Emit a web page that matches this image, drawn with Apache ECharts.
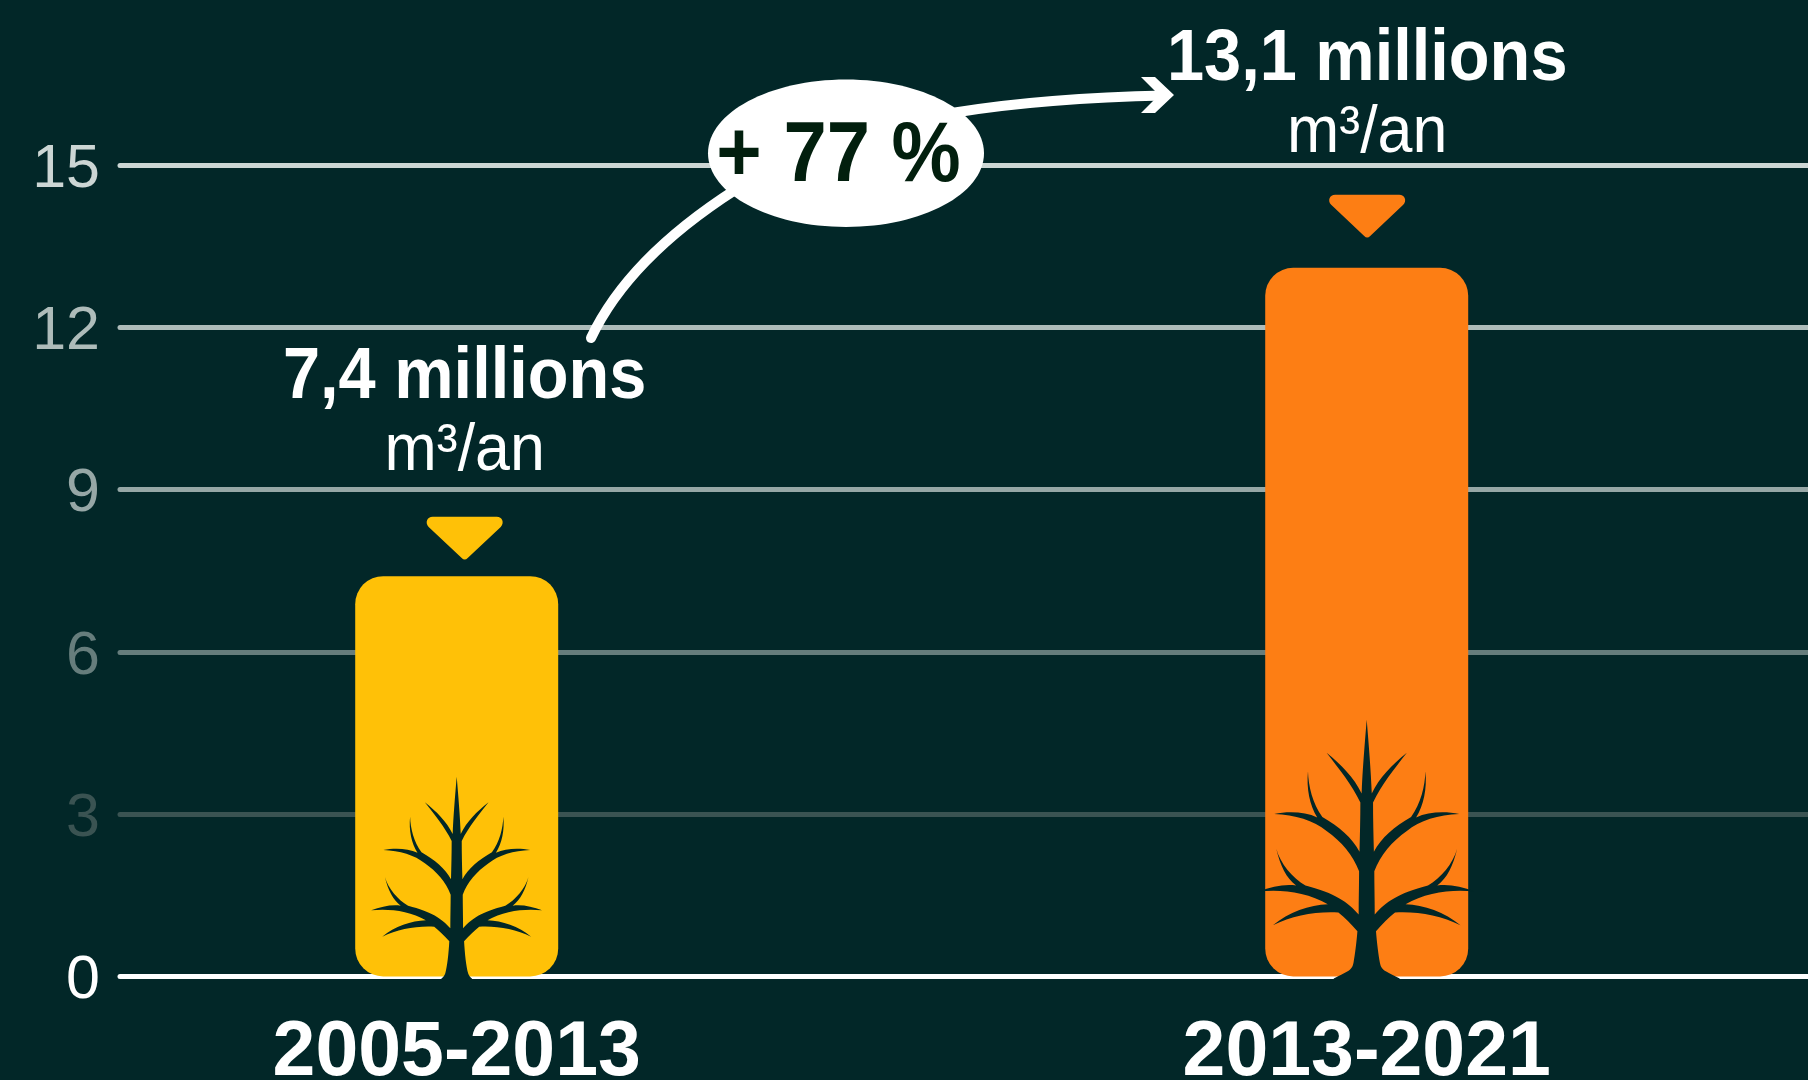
<!DOCTYPE html>
<html lang="fr">
<head>
<meta charset="utf-8">
<title>Volume annuel : 2005-2013 et 2013-2021</title>
<style>
  html, body { margin: 0; padding: 0; background: #022728; }
  #chart { width: 1808px; height: 1080px; }
</style>
<script src="https://cdn.jsdelivr.net/npm/echarts@6/dist/echarts.min.js"></script>
</head>
<body>
<div id="chart"></div>
<script>
// Chart data
const periods = ['2005-2013', '2013-2021'];
const volumes = [7.4, 13.1];
const volumeLabels = ['7,4 millions', '13,1 millions'];
const unitLabel = 'm³/an';
const changeLabel = '+ 77 %';
const axisTicks = [0, 3, 6, 9, 12, 15];

// Palette
const BG = '#022728';
const WHITE = '#ffffff';
const INK = '#021f0e';
const BAR_COLORS = ['#ffc107', '#fd7e14'];
const TICK_COLORS = ['#ffffff', '#3a5352', '#667d7c', '#96a7a6', '#aebcba', '#ccd6d4'];
const FONT = '"Liberation Sans", Arial, sans-serif';

// Per-bar tweaks for the annotations above each bar
const LABEL_SHIFT_X = [8, 0.5];
const TEXT_LIFT = [0, 10];
const MARKER_LIFT = [0, 13.7];

// Tree silhouette: left half of the outline as cubic segments, mirrored around x = 350.
const TREE_START = [350, 110];
const TREE_LEFT = [
  [345, 170, 340, 230, 338, 282],
  [320, 245, 290, 215, 255, 187],
  [285, 225, 315, 262, 335, 303],
  [335, 340, 334, 380, 333, 418],
  [315, 385, 285, 360, 245, 337],
  [222, 305, 212, 265, 211, 230],
  [207, 270, 215, 310, 233, 338],
  [205, 325, 165, 323, 131, 330],
  [180, 332, 225, 345, 255, 370],
  [290, 394, 318, 427, 332, 464],
  [332, 495, 331, 530, 331, 565],
  [305, 535, 275, 515, 205, 497],
  [175, 480, 145, 445, 136, 411],
  [145, 450, 160, 480, 183, 497],
  [155, 493, 125, 500, 95, 511],
  [145, 505, 210, 512, 258, 541],
  [215, 542, 165, 560, 128, 590],
  [175, 567, 230, 557, 283, 560],
  [298, 572, 313, 587, 328, 604]
];
const TREE_BASE = [
  // slim foot
  [[326, 640, 322, 680, 316, 700], [314, 706, 310, 712, 304, 716], [304, 718, 304, 719, 304, 720]],
  // foot with a wide flare on the ground
  [[326, 630, 322, 660, 319, 676], [317, 686, 314, 692, 305, 697], [295, 702, 285, 708, 272, 714], [272, 716, 272, 718, 272, 720]]
];

function treePath(baseIndex) {
  const left = TREE_LEFT.concat(TREE_BASE[baseIndex]);
  const mirror = x => 700 - x;
  let d = 'M' + TREE_START.join(' ');
  left.forEach(s => { d += 'C' + s.join(' '); });
  const pts = [TREE_START].concat(left.map(s => [s[4], s[5]]));
  const last = pts[pts.length - 1];
  d += 'L' + mirror(last[0]) + ' ' + last[1];
  for (let i = left.length - 1; i >= 0; i--) {
    const s = left[i];
    const p = pts[i];
    d += 'C' + [mirror(s[2]), s[3], mirror(s[0]), s[1], mirror(p[0]), p[1]].join(' ');
  }
  return d + 'Z';
}

// Drawn size of the silhouette per bar
const TREE_SCALE_X = [1, 1.26];
const TREE_SCALE_Y = [1, 1.285];

const MARKER_PATH = 'M6 0H70C75.5 0 78 6 74 10L41 41C39 43 37 43 35 41L2 10C-2 6 .5 0 6 0Z';

function renderTree(params, api) {
  const i = params.dataIndex;
  const base = api.coord([i, 0]);
  const sx = TREE_SCALE_X[i];
  const sy = TREE_SCALE_Y[i];
  return {
    type: 'path',
    shape: {
      pathData: treePath(i),
      layout: 'cover',
      x: base[0] - 85.5 * sx,
      y: base[1] - 199.8 * sy,
      width: 171 * sx,
      height: 203.3 * sy
    },
    style: { fill: BG }
  };
}

function scaledText(x, y, text, font, scaleX) {
  return {
    type: 'text',
    x: x,
    y: y,
    scaleX: scaleX,
    style: { x: 0, y: 0, text: text, font: font, fill: WHITE, align: 'center', verticalAlign: 'middle' }
  };
}

function renderAnnotation(params, api) {
  const i = params.dataIndex;
  const top = api.coord([i, api.value(1)]);
  const cx = top[0] + LABEL_SHIFT_X[i];
  const markerBottom = top[1] - 16.7 - MARKER_LIFT[i];
  return {
    type: 'group',
    children: [
      {
        type: 'path',
        shape: { pathData: MARKER_PATH, layout: 'cover', x: cx - 38, y: markerBottom - 42.6, width: 76, height: 42.6 },
        style: { fill: BAR_COLORS[i] }
      },
      scaledText(cx, top[1] - 198 - TEXT_LIFT[i], volumeLabels[i], 'bold 72px ' + FONT, 0.927),
      scaledText(cx, top[1] - 124 - TEXT_LIFT[i], unitLabel, '66px ' + FONT, 0.95)
    ]
  };
}

const GRID_TOP = 165;
const GRID_HEIGHT = 811.5;

const option = {
  backgroundColor: BG,
  animation: false,
  grid: [
    { left: 120, right: 0, top: GRID_TOP, height: GRID_HEIGHT, outerBoundsMode: 'none' },
    { left: 1.7, width: 1820, top: GRID_TOP, height: GRID_HEIGHT, outerBoundsMode: 'none' }
  ],
  xAxis: [
    { gridIndex: 0, type: 'category', data: periods, show: false },
    {
      gridIndex: 1,
      type: 'category',
      data: periods,
      axisLine: { show: false },
      axisTick: { show: false },
      axisLabel: { color: WHITE, fontFamily: FONT, fontWeight: 'bold', fontSize: 77, margin: 39 }
    }
  ],
  yAxis: [
    {
      gridIndex: 0,
      type: 'value',
      min: axisTicks[0],
      max: axisTicks[axisTicks.length - 1],
      interval: axisTicks[1] - axisTicks[0],
      axisLine: { show: false },
      axisTick: { show: false },
      axisLabel: {
        fontFamily: FONT,
        fontSize: 61,
        margin: 20,
        verticalAlign: 'top',
        lineHeight: 10,
        color: (value, index) => TICK_COLORS[index]
      },
      splitLine: { show: true, lineStyle: { color: TICK_COLORS, width: 5, cap: 'round' } }
    },
    {
      gridIndex: 1,
      type: 'value',
      min: axisTicks[0],
      max: axisTicks[axisTicks.length - 1],
      interval: axisTicks[1] - axisTicks[0],
      show: false
    }
  ],
  series: [
    {
      type: 'bar',
      xAxisIndex: 1,
      yAxisIndex: 1,
      barWidth: 203,
      z: 2,
      data: volumes.map((v, i) => ({
        value: v,
        itemStyle: { color: BAR_COLORS[i], borderRadius: 28 }
      }))
    },
    {
      type: 'custom',
      xAxisIndex: 1,
      yAxisIndex: 1,
      z: 3,
      clip: false,
      silent: true,
      renderItem: renderTree,
      data: periods.map((p, i) => [i, 0])
    },
    {
      type: 'custom',
      xAxisIndex: 1,
      yAxisIndex: 1,
      z: 4,
      clip: false,
      silent: true,
      renderItem: renderAnnotation,
      data: volumes.map((v, i) => [i, v])
    }
  ],
  // Arrow from the first value to the second, passing behind the percentage bubble
  graphic: [
    {
      type: 'bezierCurve',
      z: 10,
      shape: { x1: 591, y1: 338, cpx1: 616, cpy1: 285, cpx2: 665, cpy2: 235, x2: 735, y2: 190 },
      style: { fill: null, stroke: WHITE, lineWidth: 10, lineCap: 'round' }
    },
    {
      type: 'bezierCurve',
      z: 10,
      shape: { x1: 955, y1: 112.5, cpx1: 1020, cpy1: 102, cpx2: 1090, cpy2: 97, x2: 1165, y2: 95.5 },
      style: { fill: null, stroke: WHITE, lineWidth: 10 }
    },
    {
      type: 'polygon',
      z: 10,
      shape: { points: [[1141, 77], [1155, 77], [1174, 95], [1155, 113], [1141, 113], [1159, 95]] },
      style: { fill: WHITE }
    },
    {
      type: 'ellipse',
      z: 11,
      shape: { cx: 846, cy: 153.3, rx: 138, ry: 73.7 },
      style: { fill: WHITE }
    },
    {
      type: 'text',
      z: 12,
      x: 838.5,
      y: 158,
      scaleX: 0.915,
      style: {
        x: 0, y: 0,
        text: changeLabel,
        font: 'bold 85px ' + FONT,
        fill: INK,
        align: 'center',
        verticalAlign: 'middle'
      }
    }
  ]
};

const chart = echarts.init(document.getElementById('chart'), null, { renderer: 'canvas' });
chart.setOption(option);
</script>
</body>
</html>
